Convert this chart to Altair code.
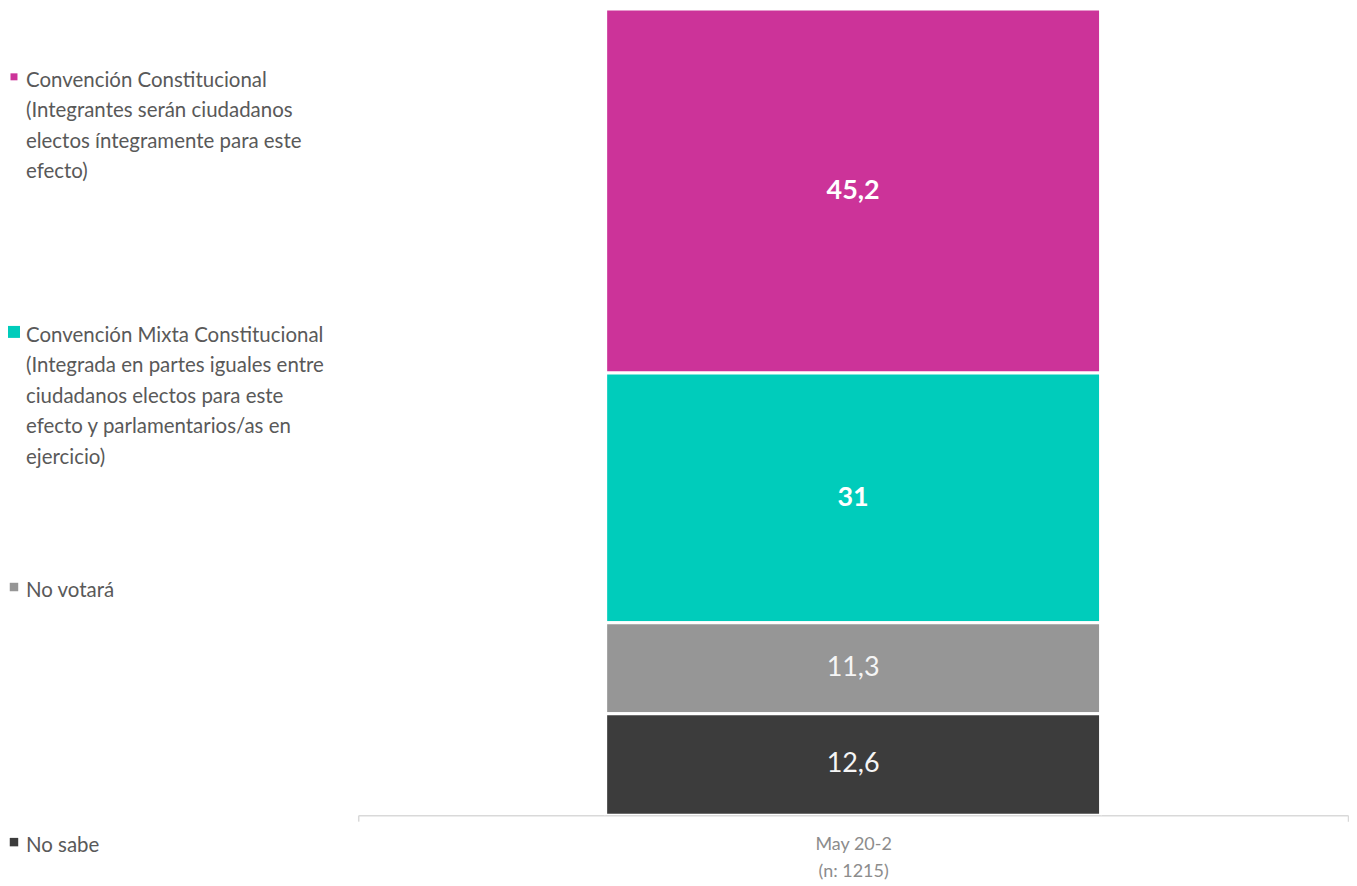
import altair as alt
import pandas as pd

# ---- data ----
period = "May 20-2\n(n: 1215)"
categories = ["Convención Constitucional", "Convención Mixta Constitucional", "No votará", "No sabe"]
legend_texts = [
    "Convención Constitucional\n(Integrantes serán ciudadanos\nelectos íntegramente para este\nefecto)",
    "Convención Mixta Constitucional\n(Integrada en partes iguales entre\nciudadanos electos para este\nefecto y  parlamentarios/as en\nejercicio)",
    "No votará",
    "No sabe",
]
values = [45.2, 31, 11.3, 12.6]
bold_label = [True, True, False, False]
stack_order = [3, 2, 1, 0]   # bottom of stack = 0
legend_order = [0, 1, 2, 3]

# ---- styles ----
colors = ["#CC3399", "#00CCBB", "#969696", "#3C3C3C"]
swatch_sizes = [49, 144, 72, 72]
FONT = "Lato"

df = pd.DataFrame({
    "period": [period] * len(categories),
    "cat": categories,
    "legtext": legend_texts,
    "value": values,
    "bold": bold_label,
    "ord": stack_order,
    "leg": legend_order,
})

color_scale = alt.Scale(domain=categories, range=colors)

base = alt.Chart(df).transform_stack(
    stack="value", groupby=["period"], as_=["y0", "y1"],
    sort=[alt.SortField("ord", order="ascending")],
).transform_calculate(
    mid="(datum.y0 + datum.y1) / 2",
    lab="replace(toString(datum.value), '.', ',')",
)

xenc = alt.X(
    "period:N",
    title=None,
    scale=alt.Scale(paddingInner=0, paddingOuter=0),
    axis=alt.Axis(
        labelExpr="split(datum.label, '\\n')",
        labelAngle=0, labelFont=FONT, labelFontSize=18, labelColor="#8c8c8c",
        labelLineHeight=27, labelPadding=14,
        domainColor="#d9d9d9", domainWidth=1.5,
        tickColor="#d9d9d9", tickBand="extent", tickSize=6, tickWidth=1.5,
    ),
)
yscale = alt.Scale(domain=[0, 100.1], nice=False, zero=True)

bars = base.mark_bar(size=496, stroke="white", strokeWidth=3, clip=True).encode(
    x=xenc,
    y=alt.Y("y0:Q", scale=yscale, axis=None),
    y2="y1",
    color=alt.Color("cat:N", scale=color_scale, legend=None),
)

txt_bold = base.transform_filter("datum.bold").mark_text(
    font=FONT, fontSize=27, fontWeight="bold", color="white"
).encode(x=alt.X("period:N"), y=alt.Y("mid:Q", scale=yscale), text="lab:N")

txt_norm = base.transform_filter("!datum.bold").mark_text(
    font=FONT, fontSize=27, color="#f5f5f5"
).encode(x=alt.X("period:N"), y=alt.Y("mid:Q", scale=yscale), text="lab:N")

right = alt.layer(bars, txt_bold, txt_norm).properties(width=992, height=808)

# ---- legend panel ----
legy = alt.Y("leg:Q", scale=alt.Scale(domain=[0, 3], range=[62, 829]), axis=None)
leg_base = alt.Chart(df)
swatches = leg_base.mark_square(filled=True, opacity=1, yOffset=6).encode(
    x=alt.value(6), y=legy,
    color=alt.Color("cat:N", scale=color_scale, legend=None),
    size=alt.Size("cat:N", scale=alt.Scale(type="ordinal", domain=categories, range=swatch_sizes), legend=None),
)
leg_text = leg_base.mark_text(
    align="left", baseline="top", font=FONT, fontSize=20.5, lineHeight=30.5,
    lineBreak="\n", color="#595959",
).encode(x=alt.value(18), y=legy, text="legtext:N")

left = alt.layer(swatches, leg_text).properties(width=350, height=858)

chart = alt.hconcat(left, right, spacing=0).properties(padding=0).configure_view(stroke=None)

chart.save("out.html", embed_options={"renderer": "svg", "actions": False})
